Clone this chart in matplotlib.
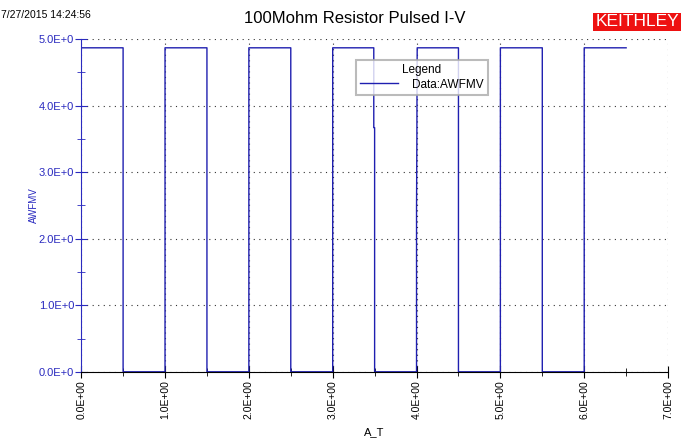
import matplotlib
matplotlib.use("Agg")
import matplotlib.pyplot as plt
from matplotlib.ticker import MultipleLocator, FormatStrFormatter

plt.rcParams['font.family'] = ['Liberation Sans', 'DejaVu Sans']

# pulse train (time in s, AWFMV in V)
time = [0.0, 0.5, 0.5, 1.0, 1.0, 1.5, 1.5, 2.0, 2.0, 2.5, 2.5, 3.0, 3.0,
        3.49, 3.49, 3.5, 3.5, 4.0, 4.0, 4.004, 4.006, 4.008, 4.5, 4.5,
        5.0, 5.0, 5.5, 5.5, 6.0, 6.0, 6.5]
volts = [4.87, 4.87, 0.0, 0.0, 4.87, 4.87, 0.0, 0.0, 4.87, 4.87, 0.0, 0.0, 4.87,
         4.87, 3.67, 3.67, 0.0, 0.0, 2.45, 3.5, 4.4, 4.87, 4.87, 0.0,
         0.0, 4.87, 4.87, 0.0, 0.0, 4.87, 4.87]

title = "100Mohm Resistor Pulsed I-V"
stamp = "7/27/2015 14:24:56"
blue = "#2a2abf"
line_col = "#1f1fb0"

fig = plt.figure(figsize=(6.88, 4.4), dpi=100)
ax = fig.add_axes([0.118, 0.155, 0.853, 0.756])

ax.plot(time, volts, color=line_col, lw=1.0, label="Data:AWFMV", zorder=2)

ax.set_xlim(0, 7)
ax.set_ylim(0, 5)
ax.xaxis.set_major_locator(MultipleLocator(1))
ax.xaxis.set_minor_locator(MultipleLocator(0.5))
ax.yaxis.set_major_locator(MultipleLocator(1))
ax.yaxis.set_minor_locator(MultipleLocator(0.5))
ax.xaxis.set_major_formatter(FormatStrFormatter("%.1fE+00"))
ax.yaxis.set_major_formatter(FormatStrFormatter("%.1fE+0"))

ax.grid(True, which="major", color="#333333", linestyle=(0, (1, 4)), lw=0.8)
for s in ("top", "right"):
    ax.spines[s].set_visible(False)
ax.spines["left"].set_color(blue)
ax.spines["bottom"].set_color("black")
ax.spines["bottom"].set_zorder(3)

ax.tick_params(axis="y", which="both", direction="inout", colors=blue, labelsize=8, pad=1)
ax.tick_params(axis="y", which="major", length=8)
ax.tick_params(axis="y", which="minor", length=6)
ax.tick_params(axis="x", which="both", direction="inout", colors="black", labelsize=7.5,
               labelrotation=90, pad=2)
ax.tick_params(axis="x", which="major", length=8)
ax.tick_params(axis="x", which="minor", length=6)

ax.set_xlabel("A_T", fontsize=8, labelpad=6)
ax.set_ylabel("AWFMV", fontsize=7, color=blue, labelpad=0)

fig.text(0.515, 0.958, title, ha="center", va="center", fontsize=12)
fig.text(0.002, 0.965, stamp, ha="left", va="center", fontsize=7.5)
fig.text(0.926, 0.95, "KEITHLEY", ha="center", va="center", fontsize=12.5, color="white",
         bbox=dict(boxstyle="square,pad=0.1", fc="#ee1111", ec="none"))

leg = ax.legend(loc="upper left", bbox_to_anchor=(0.458, 0.955), title="Legend",
                fontsize=8.5, title_fontsize=8.5, frameon=True, fancybox=False,
                shadow=False, handlelength=3.2, borderpad=0.35, labelspacing=0.2,
                handletextpad=1.2)
leg.get_frame().set_edgecolor("#aaaaaa")
leg.get_frame().set_linewidth(1.5)

fig.savefig("out.png", dpi=100)
